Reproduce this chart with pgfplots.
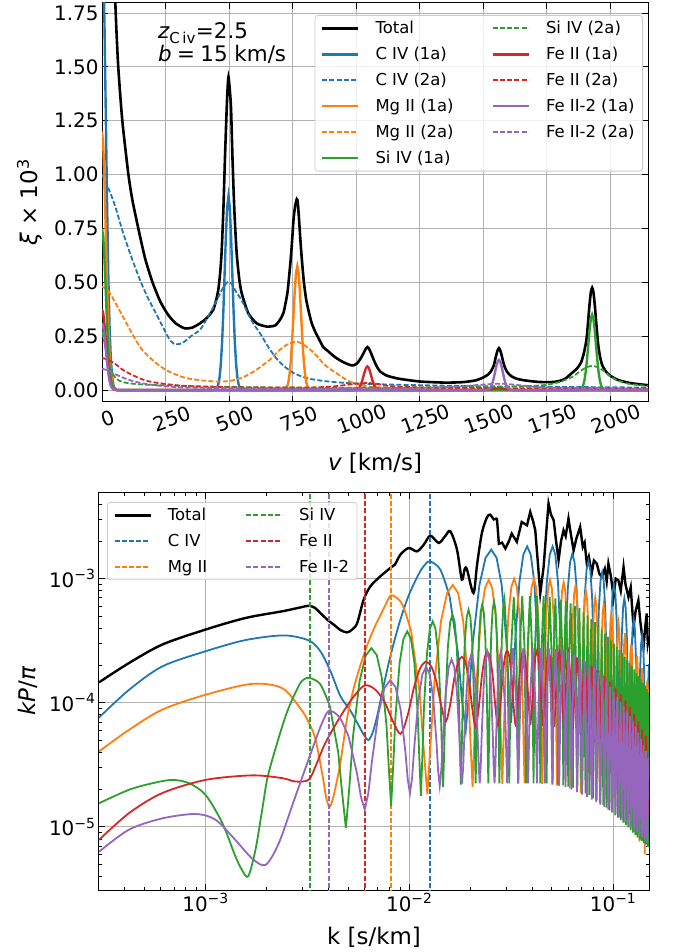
\documentclass[border=0pt]{standalone}
\usepackage{fontspec}
\setmainfont{DejaVu Sans}
\usepackage{pgfplots}
\pgfplotsset{compat=1.18}
\definecolor{cB}{HTML}{1F77B4}
\definecolor{cO}{HTML}{FF7F0E}
\definecolor{cG}{HTML}{2CA02C}
\definecolor{cR}{HTML}{D62728}
\definecolor{cP}{HTML}{9467BD}
\pgfplotsset{
  mpl/.style={
    scale only axis,
    tick align=inside,
    major tick length=6bp,
    minor tick length=3.5bp,
    every tick/.style={black, line width=0.8bp},
    axis line style={line width=1bp},
    grid=major,
    grid style={black!30, line width=0.8bp},
    tick label style={font=\fontsize{20}{24}\selectfont},
    legend cell align=left,
    legend columns=2,
    legend image code/.code={\draw[##1] (0bp,0bp) -- (36bp,0bp);},
    legend style={draw=black!20, line width=0.8bp, rounded corners=3bp, fill=white, fill opacity=0.8, text opacity=1, draw opacity=1, inner xsep=6bp, inner ysep=4bp, font=\fontsize{16.5}{19}\selectfont, row sep=8bp, /tikz/every odd column/.append style={column sep=14bp}, /tikz/every even column/.append style={column sep=36bp}},
  },
  dsh/.style={line width=1.8bp, dash pattern=on 5bp off 2.2bp},
  vdsh/.style={line width=2bp, dash pattern=on 5bp off 2.2bp},
  sld/.style={line width=2.4bp},
  osc/.style={line width=1.8bp},
}
\begin{document}
\begin{tikzpicture}
\path[use as bounding box] (0bp,0bp) rectangle (673bp,952bp);
\begin{axis}[mpl, at={(102bp,550bp)}, anchor=south west, width=546bp, height=399bp,
  xmin=0, xmax=2150, ymin=-0.055, ymax=1.796,
  xtick={0,250,500,750,1000,1250,1500,1750,2000},
  xticklabels={0,250,500,750,1000,1250,1500,1750,2000},
  ytick={0,0.25,0.5,0.75,1,1.25,1.5,1.75},
  yticklabels={0.00,0.25,0.50,0.75,1.00,1.25,1.50,1.75},
  xticklabel style={rotate=20, anchor=center, inner sep=0bp, yshift=-18bp},
  xlabel={{\itshape v} [km/s]}, ylabel={{\itshape ξ} × 10\textsuperscript{3}},
  every axis x label/.style={at={(axis description cs:0.5,-0.153)}, anchor=center, font=\fontsize{23}{27}\selectfont},
  every axis y label/.style={at={(axis description cs:-0.132,0.5)}, anchor=center, rotate=90, font=\fontsize{23}{27}\selectfont},
  legend style={at={(1,1)}, anchor=north east, xshift=-5bp, yshift=-12bp},
]
% Total
\addplot[black, line width=2.6bp, smooth, tension=0.4, forget plot] coordinates {(30,2.7) (45,2.05) (55,1.72) (64,1.5) (80,1.25) (104,1.0) (120,0.88) (143,0.75) (170,0.61) (199,0.5) (230,0.41) (260,0.35) (290,0.31) (325,0.287) (355,0.29) (386,0.31) (412,0.334) (438,0.373) (450,0.42) (458,0.466) (465,0.54) (471,0.64) (478,0.84) (484,1.07) (491,1.306) (495,1.41) (498,1.453) (502,1.41) (508,1.31) (514,1.07) (521,0.84) (530,0.64) (540,0.52) (550,0.45) (576,0.357) (609,0.31) (649,0.295) (682,0.30) (700,0.325) (715,0.36) (730,0.45) (737,0.53) (743,0.606) (749,0.7) (754,0.79) (760,0.85) (767,0.886) (771,0.87) (776,0.79) (781,0.7) (787,0.606) (795,0.5) (804,0.42) (815,0.36) (826,0.31) (840,0.27) (853,0.24) (871,0.2) (886,0.185) (905,0.165) (924,0.148) (950,0.13) (976,0.117) (990,0.115) (1005,0.125) (1020,0.15) (1030,0.172) (1038,0.19) (1045,0.2) (1050,0.195) (1060,0.17) (1070,0.14) (1082,0.11) (1095,0.087) (1120,0.068) (1150,0.058) (1174,0.052) (1252,0.04) (1350,0.035) (1420,0.037) (1470,0.045) (1500,0.058) (1520,0.072) (1533,0.09) (1543,0.115) (1548,0.14) (1553,0.165) (1558,0.185) (1563,0.195) (1568,0.185) (1573,0.165) (1578,0.14) (1585,0.11) (1595,0.085) (1610,0.066) (1630,0.054) (1660,0.046) (1720,0.038) (1780,0.038) (1820,0.05) (1848,0.077) (1870,0.1) (1885,0.125) (1895,0.16) (1905,0.215) (1910,0.26) (1915,0.33) (1920,0.4) (1925,0.455) (1930,0.475) (1935,0.455) (1940,0.4) (1945,0.33) (1950,0.26) (1955,0.2) (1962,0.15) (1970,0.115) (1985,0.085) (2000,0.068) (2030,0.048) (2070,0.035) (2110,0.028) (2150,0.023)};
% C IV 1a
\addplot[cB, sld, forget plot] coordinates {(0,2.1) (5,1.987) (10,1.682) (15,1.275) (20,0.863) (25,0.523) (30,0.284) (35,0.139) (40,0.061) (45,0.023) (50,0.008) (60,0.0006) (70,0) (430,0) (438,0.0006) (448,0.004) (453,0.01) (458,0.026) (463,0.059) (468,0.122) (473,0.224) (478,0.37) (483,0.546) (488,0.721) (493,0.851) (498,0.9) (503,0.851) (508,0.721) (513,0.546) (518,0.37) (523,0.224) (528,0.122) (533,0.059) (538,0.026) (543,0.01) (548,0.004) (558,0.0003) (566,0) (2150,0)};
% C IV 2a
\addplot[cB, dsh, smooth, tension=0.5, forget plot] coordinates {(0,1.0) (20,0.95) (50,0.86) (83,0.73) (115,0.62) (150,0.51) (180,0.43) (215,0.35) (250,0.27) (270,0.228) (290,0.212) (305,0.214) (325,0.225) (350,0.25) (386,0.28) (412,0.33) (445,0.40) (470,0.46) (485,0.49) (498,0.503) (512,0.49) (526,0.46) (543,0.43) (557,0.40) (590,0.32) (622,0.264) (655,0.2) (688,0.145) (720,0.108) (754,0.08) (790,0.062) (820,0.052) (892,0.04) (1000,0.031) (1200,0.024) (1500,0.018) (1800,0.015) (2150,0.012)};
% Mg II 1a
\addplot[cO, sld, forget plot] coordinates {(0,1.2) (5,1.135) (10,0.961) (15,0.728) (20,0.493) (25,0.299) (30,0.162) (35,0.079) (40,0.035) (45,0.013) (50,0.005) (60,0.0004) (70,0) (700,0) (709,0.0002) (719,0.002) (724,0.006) (729,0.017) (734,0.038) (739,0.078) (744,0.143) (749,0.236) (754,0.349) (759,0.461) (764,0.544) (769,0.575) (774,0.544) (779,0.461) (784,0.349) (789,0.236) (794,0.143) (799,0.078) (804,0.038) (809,0.017) (814,0.006) (819,0.002) (829,0.0002) (838,0) (2150,0)};
% Mg II 2a
\addplot[cO, dsh, smooth, tension=0.5, forget plot] coordinates {(0,0.48) (15,0.47) (31,0.45) (55,0.40) (83,0.34) (115,0.27) (150,0.20) (180,0.16) (215,0.124) (250,0.095) (281,0.077) (320,0.06) (360,0.05) (412,0.043) (460,0.04) (500,0.042) (530,0.05) (560,0.062) (600,0.088) (630,0.113) (660,0.14) (690,0.175) (713,0.20) (740,0.217) (767,0.225) (790,0.213) (818,0.19) (845,0.16) (871,0.124) (900,0.097) (924,0.078) (950,0.057) (976,0.04) (1000,0.03) (1029,0.02) (1108,0.012) (1300,0.008) (2150,0.005)};
% Si IV 1a
\addplot[cG, sld, forget plot] coordinates {(0,0.75) (5,0.71) (10,0.601) (15,0.455) (20,0.308) (25,0.187) (30,0.101) (35,0.05) (40,0.022) (45,0.008) (50,0.003) (60,0) (1870,0) (1880,0.0014) (1885,0.0039) (1890,0.0102) (1895,0.0231) (1900,0.0473) (1905,0.0872) (1910,0.1439) (1915,0.2125) (1920,0.2804) (1925,0.3311) (1930,0.35) (1935,0.3311) (1940,0.2804) (1945,0.2125) (1950,0.1439) (1955,0.0872) (1960,0.0473) (1965,0.0231) (1970,0.0102) (1975,0.0039) (1980,0.0014) (1990,0.0001) (2000,0) (2150,0)};
% Si IV 2a
\addplot[cG, dsh, smooth, tension=0.5, forget plot] coordinates {(0,0.27) (10,0.22) (20,0.16) (30,0.11) (45,0.07) (60,0.05) (80,0.038) (120,0.03) (200,0.024) (400,0.017) (700,0.012) (1000,0.011) (1300,0.013) (1500,0.015) (1600,0.016) (1700,0.02) (1752,0.025) (1800,0.037) (1830,0.05) (1857,0.065) (1885,0.09) (1910,0.107) (1930,0.112) (1950,0.107) (1975,0.09) (2000,0.065) (2025,0.048) (2060,0.033) (2100,0.025) (2150,0.02)};
% Fe II 1a
\addplot[cR, sld, forget plot] coordinates {(0,0.375) (5,0.355) (10,0.30) (15,0.228) (20,0.154) (25,0.093) (30,0.051) (35,0.025) (40,0.011) (45,0.004) (50,0.0015) (60,0) (990,0) (1000,0.0012) (1005,0.0032) (1010,0.0073) (1015,0.0149) (1020,0.0274) (1025,0.0452) (1030,0.0668) (1035,0.0881) (1040,0.104) (1045,0.11) (1050,0.104) (1055,0.0881) (1060,0.0668) (1065,0.0452) (1070,0.0274) (1075,0.0149) (1080,0.0073) (1085,0.0032) (1090,0.0012) (1100,0.0002) (1110,0) (1500,0) (1520,0.003) (1540,0.007) (1560,0.008) (1580,0.007) (1600,0.003) (1620,0) (2150,0)};
% Fe II 2a
\addplot[cR, dsh, smooth, tension=0.5, forget plot] coordinates {(0,0.15) (25,0.14) (50,0.124) (75,0.10) (100,0.082) (150,0.054) (200,0.037) (300,0.022) (400,0.016) (600,0.012) (800,0.012) (900,0.016) (960,0.024) (1003,0.03) (1045,0.033) (1080,0.03) (1120,0.021) (1174,0.016) (1300,0.011) (1600,0.008) (2150,0.005)};
% Fe II-2 1a
\addplot[cP, sld, forget plot] coordinates {(0,0.31) (5,0.293) (10,0.248) (15,0.188) (20,0.127) (25,0.077) (30,0.042) (35,0.02) (40,0.009) (45,0.0034) (50,0.0012) (60,0) (1510,0) (1518,0.0015) (1523,0.0041) (1528,0.0092) (1533,0.0189) (1538,0.0349) (1543,0.0575) (1548,0.085) (1553,0.1121) (1558,0.1324) (1563,0.14) (1568,0.1324) (1573,0.1121) (1578,0.085) (1583,0.0575) (1588,0.0349) (1593,0.0189) (1598,0.0092) (1603,0.0041) (1608,0.0015) (1618,0.0002) (1625,0) (2150,0)};
% Fe II-2 2a
\addplot[cP, dsh, smooth, tension=0.5, forget plot] coordinates {(0,0.10) (25,0.09) (50,0.075) (100,0.05) (150,0.034) (200,0.024) (300,0.014) (500,0.009) (900,0.008) (1200,0.01) (1350,0.014) (1420,0.018) (1480,0.024) (1530,0.028) (1563,0.03) (1600,0.028) (1650,0.022) (1700,0.016) (1750,0.012) (2150,0.007)};
\addlegendimage{black, line width=2.6bp}\addlegendentry{Total}
\addlegendimage{cG, dsh}\addlegendentry{Si IV (2a)}
\addlegendimage{cB, sld}\addlegendentry{C IV (1a)}
\addlegendimage{cR, sld}\addlegendentry{Fe II (1a)}
\addlegendimage{cB, dsh}\addlegendentry{C IV (2a)}
\addlegendimage{cR, dsh}\addlegendentry{Fe II (2a)}
\addlegendimage{cO, sld}\addlegendentry{Mg II (1a)}
\addlegendimage{cP, sld}\addlegendentry{Fe II-2 (1a)}
\addlegendimage{cO, dsh}\addlegendentry{Mg II (2a)}
\addlegendimage{cP, dsh}\addlegendentry{Fe II-2 (2a)}
\addlegendimage{cG, sld}\addlegendentry{Si IV (1a)}
\end{axis}
\node[anchor=base west, inner sep=0pt, font=\fontsize{21.5}{25}\selectfont] at (158bp,913bp) {{\itshape z}\textsubscript{C\,iv}=2.5};
\node[anchor=base west, inner sep=0pt, font=\fontsize{21.5}{25}\selectfont] at (158bp,890bp) {{\itshape b}\hspace{0.25em}=\hspace{0.25em}15 km/s};
\begin{axis}[mpl, at={(99bp,62bp)}, anchor=south west, width=550bp, height=397bp,
  xmode=log, ymode=log, xmin=3e-4, xmax=0.15, ymin=3.1e-6, ymax=4.9e-3,
  xtick={1e-3,1e-2,1e-1}, xticklabels={10\textsuperscript{−3},10\textsuperscript{−2},10\textsuperscript{−1}},
  ytick={1e-5,1e-4,1e-3}, yticklabels={10\textsuperscript{−5},10\textsuperscript{−4},10\textsuperscript{−3}},
  minor xtick={4e-4,5e-4,6e-4,7e-4,8e-4,9e-4,2e-3,3e-3,4e-3,5e-3,6e-3,7e-3,8e-3,9e-3,2e-2,3e-2,4e-2,5e-2,6e-2,7e-2,8e-2,9e-2},
  minor ytick={4e-6,5e-6,6e-6,7e-6,8e-6,9e-6,2e-5,3e-5,4e-5,5e-5,6e-5,7e-5,8e-5,9e-5,2e-4,3e-4,4e-4,5e-4,6e-4,7e-4,8e-4,9e-4,2e-3,3e-3,4e-3},
  xlabel={k [s/km]}, ylabel={{\itshape kP}/{\itshape π}},
  every axis x label/.style={at={(axis description cs:0.5,-0.118)}, anchor=center, font=\fontsize{23}{27}\selectfont},
  every axis y label/.style={at={(axis description cs:-0.129,0.5)}, anchor=center, rotate=90, font=\fontsize{23}{27}\selectfont},
  legend style={at={(0,1)}, anchor=north west, xshift=8bp, yshift=-9bp},
]
% Total
\addplot[black, line width=2.4bp, smooth, tension=0.5, forget plot] coordinates {(3.0e-4,1.46e-4) (4.21e-4,2.09e-4) (6.12e-4,2.94e-4) (1.0e-3,3.89e-4) (1.57e-3,4.82e-4) (2.38e-3,5.46e-4) (2.9e-3,5.85e-4) (3.21e-3,6.05e-4) (3.45e-3,5.8e-4) (3.66e-3,5.28e-4) (4.0e-3,4.6e-4) (4.26e-3,4.26e-4) (4.6e-3,3.85e-4) (4.95e-3,3.69e-4) (5.25e-3,3.9e-4) (5.55e-3,4.39e-4) (5.97e-3,6.78e-4) (6.44e-3,8.67e-4) (7.21e-3,1.045e-3) (8.07e-3,1.219e-3) (8.5e-3,1.3e-3) (9.04e-3,1.563e-3) (9.93e-3,1.766e-3) (1.09e-2,1.66e-3) (1.178e-2,1.88e-3) (1.268e-2,2.22e-3) (1.393e-2,1.94e-3) (1.5e-2,2.2e-3) (1.589e-2,2.41e-3) (1.714e-2,1.71e-3) (1.81e-2,9.82e-4) (1.87e-2,1.2e-3) (1.92e-2,1.18e-3) (2.065e-2,7.66e-4) (2.15e-2,1.3e-3) (2.27e-2,2.33e-3) (2.4e-2,3.1e-3) (2.49e-2,3.28e-3) (2.6e-2,3.0e-3) (2.69e-2,3.08e-3)};
\addplot[black, line width=2.4bp, forget plot] coordinates {(2.69e-2,3.08e-3) (2.75e-2,1.91e-3) (2.85e-2,1.95e-3) (2.96e-2,1.75e-3) (3.08e-2,2.0e-3) (3.18e-2,2.31e-3) (3.37e-2,1.98e-3) (3.56e-2,2.86e-3) (3.78e-2,2.69e-3) (3.92e-2,3.45e-3) (4.05e-2,2.9e-3) (4.15e-2,2.45e-3) (4.28e-2,1.3e-3) (4.39e-2,7.59e-4) (4.56e-2,1.245e-3) (4.7e-2,2.4e-3) (4.82e-2,4.03e-3) (4.95e-2,3.3e-3) (5.11e-2,2.95e-3) (5.25e-2,2.0e-3) (5.40e-2,1.41e-3) (5.55e-2,2.0e-3) (5.71e-2,2.45e-3) (5.85e-2,2.2e-3) (6.04e-2,3.05e-3) (6.2e-2,2.3e-3) (6.40e-2,1.69e-3) (6.6e-2,2.1e-3) (6.89e-2,2.61e-3) (7.1e-2,1.8e-3) (7.25e-2,1.95e-3) (7.43e-2,1.32e-3) (7.6e-2,1.5e-3) (7.85e-2,1.10e-3) (8.05e-2,1.4e-3) (8.32e-2,1.32e-3) (8.55e-2,1.1e-3) (8.79e-2,1.03e-3) (9.1e-2,1.2e-3) (9.3e-2,9.5e-4) (9.48e-2,1.32e-3) (9.75e-2,1.05e-3) (1.005e-1,7.11e-4) (1.03e-1,1.0e-3) (1.062e-1,9.68e-4) (1.09e-1,8.0e-4) (1.125e-1,1.24e-3) (1.15e-1,9.0e-4) (1.189e-1,7.11e-4) (1.22e-1,8.5e-4) (1.259e-1,4.07e-4) (1.29e-1,5.5e-4) (1.33e-1,6.68e-4) (1.36e-1,4.5e-4) (1.41e-1,2.82e-4) (1.44e-1,4.2e-4) (1.462e-1,5.25e-4) (1.48e-1,3.0e-4) (1.5e-1,3.4e-4)};
% C IV
\addplot[cB, osc, smooth, tension=0.5, forget plot] coordinates {(3.0e-4,7.6e-5) (4.21e-4,1.27e-4) (6.12e-4,1.96e-4) (1.0e-3,2.6e-4) (1.57e-3,3.2e-4) (2.42e-3,3.49e-4) (3.21e-3,3.18e-4) (3.66e-3,2.6e-4) (4.1e-3,1.8e-4) (4.59e-3,1.13e-4) (5.1e-3,8.8e-5) (5.55e-3,6.9e-5) (5.95e-3,5.6e-5) (6.3e-3,5.0e-5) (6.62e-3,5.8e-5) (6.95e-3,7.8e-5) (7.5e-3,1.4e-4) (8.07e-3,2.37e-4) (8.9e-3,4.3e-4) (9.75e-3,6.78e-4) (1.05e-2,9.0e-4) (1.132e-2,1.15e-3) (1.2e-2,1.31e-3) (0.01262,1.38e-3) (0.01419,1.185e-3) (0.01577,7.18e-4)};
\addplot[cB, osc, forget plot] coordinates {(0.01577,7.18e-4) (0.01735,2.48e-4) (0.01814,1.04e-4) (0.01892,6.0e-5) (0.01971,1.30e-4) (0.02050,3.09e-4) (0.02208,8.91e-4) (0.02366,1.472e-3)
(0.02523,1.714e-3) (0.02681,1.472e-3) (0.02839,8.91e-4) (0.02996,3.09e-4) (0.03075,1.30e-4) (0.03154,6.9e-5) (0.03233,1.38e-4) (0.03312,3.28e-4) (0.03470,9.46e-4) (0.03627,1.563e-3)
(0.03785,1.82e-3) (0.03943,1.563e-3) (0.04100,9.46e-4) (0.04258,3.28e-4) (0.04337,1.38e-4) (0.04416,7.1e-5) (0.04495,1.38e-4) (0.04573,3.28e-4) (0.04731,9.46e-4) (0.04889,1.563e-3)
(0.05046,1.82e-3) (0.05204,1.563e-3) (0.05362,9.46e-4) (0.05519,3.28e-4) (0.05598,1.38e-4) (0.05677,6.6e-5) (0.05756,1.20e-4) (0.05835,2.85e-4) (0.05992,8.24e-4) (0.06150,1.362e-3)
(0.06308,1.585e-3) (0.06466,1.362e-3) (0.06623,8.24e-4) (0.06781,2.85e-4) (0.06860,1.20e-4) (0.06939,5.8e-5) (0.07018,1.045e-4) (0.07096,2.48e-4) (0.07254,7.18e-4) (0.07412,1.185e-3)
(0.07570,1.38e-3) (0.07727,1.185e-3) (0.07885,7.18e-4) (0.08043,2.48e-4) (0.08122,1.045e-4) (0.08200,4.9e-5) (0.08279,8.5e-5) (0.08358,2.02e-4) (0.08516,5.83e-4) (0.08674,9.64e-4)
(0.08831,1.122e-3) (0.08989,9.64e-4) (0.09147,5.83e-4) (0.09304,2.02e-4) (0.09383,8.5e-5) (0.09462,3.9e-5) (0.09541,6.7e-5) (0.09620,1.60e-4) (0.09777,4.63e-4) (0.09935,7.65e-4)
(0.10093,8.91e-4) (0.10250,7.65e-4) (0.10408,4.63e-4) (0.10566,1.60e-4) (0.10645,6.7e-5) (0.10724,3.1e-5) (0.10802,5.2e-5) (0.10881,1.25e-4) (0.11039,3.60e-4) (0.11197,5.94e-4)
(0.11354,6.92e-4) (0.11512,5.94e-4) (0.11670,3.60e-4) (0.11827,1.25e-4) (0.11906,5.2e-5) (0.11985,2.3e-5) (0.12064,3.5e-5) (0.12143,8.4e-5) (0.12300,2.43e-4) (0.12458,4.02e-4)
(0.12616,4.68e-4) (0.12774,4.02e-4) (0.12931,2.43e-4) (0.13089,8.4e-5) (0.13168,3.5e-5) (0.13247,1.6e-5) (0.13326,2.6e-5) (0.13404,6.2e-5) (0.13562,1.80e-4) (0.13720,2.98e-4)
(0.13878,3.47e-4) (0.14035,2.98e-4) (0.14193,1.80e-4) (0.14351,6.2e-5) (0.14430,2.6e-5) (0.14508,1.2e-5) (0.14587,1.8e-5) (0.14666,4.3e-5) (0.14824,1.25e-4) (0.14981,2.06e-4)};
\addplot[cB, vdsh, forget plot] coordinates {(0.012616,1e-7) (0.012616,1)};
% Mg II
\addplot[cO, osc, smooth, tension=0.5, forget plot] coordinates {(3.0e-4,4.05e-5) (4.21e-4,6.05e-5) (6.12e-4,8.79e-5) (1.0e-3,1.16e-4) (1.69e-3,1.42e-4) (2.38e-3,1.31e-4) (2.95e-3,8.8e-5) (3.2e-3,7.0e-5) (3.46e-3,5.1e-5) (3.75e-3,2.6e-5) (3.9e-3,1.75e-5) (4.05e-3,1.45e-5) (4.2e-3,1.65e-5) (4.4e-3,2.3e-5) (4.59e-3,3.3e-5) (4.95e-3,7.5e-5) (5.33e-3,1.3e-4) (5.75e-3,2.0e-4) (6.21e-3,2.9e-4) (6.7e-3,3.95e-4) (7.21e-3,5.06e-4) (7.7e-3,6.3e-4) (0.00817,7.35e-4) (0.00919,6.30e-4) (0.01021,3.76e-4)};
\addplot[cO, osc, forget plot] coordinates {(0.01021,3.76e-4) (0.01123,1.22e-4) (0.01174,4.39e-5) (0.01226,1.83e-5) (0.01277,5.32e-5) (0.01328,1.48e-4) (0.01430,4.55e-4) (0.01532,7.64e-4)
(0.01634,8.91e-4) (0.01736,7.64e-4) (0.01838,4.55e-4) (0.01940,1.48e-4) (0.01991,5.32e-5) (0.02043,2.10e-5) (0.02094,5.83e-5) (0.02145,1.62e-4) (0.02247,4.99e-4) (0.02349,8.37e-4)
(0.02451,9.77e-4) (0.02553,8.37e-4) (0.02655,4.99e-4) (0.02757,1.62e-4) (0.02808,5.83e-5) (0.02860,2.22e-5) (0.02911,5.97e-5) (0.02962,1.66e-4) (0.03064,5.11e-4) (0.03166,8.57e-4)
(0.03268,1.0e-3) (0.03370,8.57e-4) (0.03472,5.11e-4) (0.03574,1.66e-4) (0.03625,5.97e-5) (0.03677,2.25e-5) (0.03728,5.97e-5) (0.03779,1.66e-4) (0.03881,5.11e-4) (0.03983,8.57e-4)
(0.04085,1.0e-3) (0.04187,8.57e-4) (0.04289,5.11e-4) (0.04391,1.66e-4) (0.04442,5.97e-5) (0.04494,2.22e-5) (0.04545,5.83e-5) (0.04596,1.62e-4) (0.04698,4.99e-4) (0.04800,8.37e-4)
(0.04902,9.77e-4) (0.05004,8.37e-4) (0.05106,4.99e-4) (0.05208,1.62e-4) (0.05259,5.83e-5) (0.05311,2.15e-5) (0.05362,5.57e-5) (0.05413,1.55e-4) (0.05515,4.77e-4) (0.05617,8.00e-4)
(0.05719,9.33e-4) (0.05821,8.00e-4) (0.05923,4.77e-4) (0.06025,1.55e-4) (0.06076,5.57e-5) (0.06128,2.03e-5) (0.06179,5.20e-5) (0.06230,1.45e-4) (0.06332,4.45e-4) (0.06434,7.46e-4)
(0.06536,8.71e-4) (0.06638,7.46e-4) (0.06740,4.45e-4) (0.06842,1.45e-4) (0.06893,5.20e-5) (0.06945,1.87e-5) (0.06996,4.74e-5) (0.07047,1.32e-4) (0.07149,4.06e-4) (0.07251,6.80e-4)
(0.07353,7.94e-4) (0.07455,6.80e-4) (0.07557,4.06e-4) (0.07659,1.32e-4) (0.07710,6.35e-5) (0.07762,2.63e-5) (0.07813,5.66e-5) (0.07864,1.18e-4) (0.07966,3.62e-4) (0.08068,6.07e-4)
(0.08170,7.08e-4) (0.08272,6.07e-4) (0.08374,3.62e-4) (0.08476,1.18e-4) (0.08527,5.66e-5) (0.08579,2.32e-5) (0.08630,4.94e-5) (0.08681,1.02e-4) (0.08783,3.15e-4) (0.08885,5.29e-4)
(0.08987,6.17e-4) (0.09089,5.29e-4) (0.09191,3.15e-4) (0.09293,1.02e-4) (0.09344,4.94e-5) (0.09396,2.0e-5) (0.09447,4.2e-5) (0.09498,8.72e-5) (0.09600,2.68e-4) (0.09702,4.50e-4)
(0.09804,5.25e-4) (0.09906,4.50e-4) (0.10008,2.68e-4) (0.10110,8.72e-5) (0.10161,4.2e-5) (0.10213,1.68e-5) (0.10264,3.5e-5) (0.10315,7.25e-5) (0.10417,2.23e-4) (0.10519,3.75e-4)
(0.10621,4.37e-4) (0.10723,3.75e-4) (0.10825,2.23e-4) (0.10927,7.25e-5) (0.10978,3.5e-5) (0.11030,1.4e-5) (0.11081,2.9e-5) (0.11132,6.03e-5) (0.11234,1.85e-4) (0.11336,3.11e-4)
(0.11438,3.63e-4) (0.11540,3.11e-4) (0.11642,1.85e-4) (0.11744,6.03e-5) (0.11795,2.9e-5) (0.11847,1.15e-5) (0.11898,2.36e-5) (0.11949,4.90e-5) (0.12051,1.51e-4) (0.12153,2.53e-4)
(0.12255,2.95e-4) (0.12357,2.53e-4) (0.12459,1.51e-4) (0.12561,4.90e-5) (0.12612,2.36e-5) (0.12664,9.4e-6) (0.12715,1.92e-5) (0.12766,3.98e-5) (0.12868,1.23e-4) (0.12970,2.06e-4)
(0.13072,2.40e-4) (0.13174,2.06e-4) (0.13276,1.23e-4) (0.13378,3.98e-5) (0.13429,1.92e-5) (0.13481,7.6e-6) (0.13532,1.53e-5) (0.13583,3.17e-5) (0.13685,9.76e-5) (0.13787,1.64e-4)
(0.13889,1.91e-4) (0.13991,1.64e-4) (0.14093,9.76e-5) (0.14195,3.17e-5) (0.14246,1.53e-5) (0.14298,6.0e-6) (0.14349,1.21e-5) (0.14400,2.51e-5) (0.14502,7.72e-5) (0.14604,1.29e-4)
(0.14706,1.51e-4) (0.14808,1.29e-4) (0.14910,7.72e-5) (0.15012,2.5e-5)};
\addplot[cO, vdsh, forget plot] coordinates {(0.00815,1e-7) (0.00815,1)};
% Si IV
\addplot[cG, osc, smooth, tension=0.5, forget plot] coordinates {(3.0e-4,1.55e-5) (4.21e-4,1.99e-5) (5.5e-4,2.25e-5) (6.85e-4,2.39e-5) (8.28e-4,2.25e-5) (1.0e-3,1.81e-5) (1.21e-3,1.07e-5) (1.40e-3,5.8e-6) (1.51e-3,4.5e-6) (1.62e-3,4.0e-6) (1.76e-3,6.6e-6) (1.9e-3,1.4e-5) (2.04e-3,2.72e-5) (2.47e-3,7.8e-5) (2.86e-3,1.36e-4) (3.05e-3,1.55e-4) (0.003255,1.585e-4) (0.003662,1.406e-4) (0.004069,9.46e-5)};
\addplot[cG, osc, forget plot] coordinates {(0.004069,9.46e-5) (0.004476,4.0e-5) (0.004679,1.89e-5) (0.004883,9.77e-6) (0.005086,2.16e-5) (0.005289,5.30e-5) (0.005696,1.486e-4) (0.006103,2.39e-4)
(0.006510,2.754e-4) (0.006917,2.427e-4) (0.007324,1.603e-4) (0.007731,6.50e-5) (0.007934,2.96e-5) (0.008138,1.479e-5) (0.008341,3.18e-5) (0.008544,7.60e-5) (0.008951,2.065e-4) (0.009358,3.27e-4)
(0.009765,3.758e-4) (0.010172,3.30e-4) (0.010579,2.138e-4) (0.010986,8.32e-5) (0.011189,3.66e-5) (0.011393,1.778e-5) (0.011596,3.83e-5) (0.011799,9.14e-5) (0.012206,2.489e-4) (0.012613,3.945e-4)
(0.013020,4.53e-4) (0.013427,3.97e-4) (0.013834,2.564e-4) (0.014241,9.91e-5) (0.014444,4.34e-5) (0.014648,2.089e-5) (0.014851,4.46e-5) (0.015054,1.054e-4) (0.015461,2.838e-4) (0.015868,4.467e-4)
(0.016275,5.13e-4) (0.016682,4.48e-4) (0.017089,2.864e-4) (0.017496,1.079e-4) (0.017699,4.62e-5) (0.017903,2.188e-5) (0.018106,4.72e-5) (0.018309,1.13e-4) (0.018716,3.083e-4) (0.019123,4.89e-4)
(0.019530,5.62e-4) (0.019937,4.90e-4) (0.020344,3.10e-4) (0.020751,1.143e-4) (0.020954,4.81e-5) (0.021158,2.239e-5) (0.021361,4.91e-5) (0.021564,1.199e-4) (0.021971,3.34e-4) (0.022378,5.35e-4)
(0.022785,6.17e-4) (0.023192,5.35e-4) (0.023599,3.34e-4) (0.024006,1.199e-4) (0.024209,4.91e-5) (0.024413,2.239e-5) (0.024616,4.98e-5) (0.024819,1.233e-4) (0.025226,3.50e-4) (0.025633,5.65e-4)
(0.026040,6.53e-4) (0.026447,5.65e-4) (0.026854,3.50e-4) (0.027261,1.233e-4) (0.027464,4.98e-5) (0.027668,2.239e-5) (0.027871,5.04e-5) (0.028074,1.262e-4) (0.028481,3.63e-4) (0.028888,5.90e-4)
(0.029295,6.84e-4) (0.030272,2.61e-4) (0.030923,2.239e-5) (0.031574,2.67e-4)
(0.03255,7.08e-4) (0.033527,2.67e-4) (0.034178,2.239e-5) (0.034829,2.72e-4)
(0.035805,7.24e-4) (0.036782,2.72e-4) (0.037433,2.239e-5) (0.038084,2.72e-4)
(0.03906,7.24e-4) (0.040037,2.72e-4) (0.040688,2.239e-5) (0.041339,2.72e-4)
(0.042315,7.24e-4) (0.043292,2.72e-4) (0.043943,2.239e-5) (0.044594,2.72e-4)
(0.04557,7.24e-4) (0.046547,2.72e-4) (0.047198,2.239e-5) (0.047849,2.67e-4)
(0.048825,7.08e-4) (0.049802,2.67e-4) (0.050453,2.239e-5) (0.051104,2.61e-4)
(0.05208,6.92e-4) (0.053057,2.61e-4) (0.053708,2.19e-5) (0.054359,2.55e-4)
(0.055335,6.76e-4) (0.056312,2.55e-4) (0.056963,2.16e-5) (0.057614,2.49e-4)
(0.05859,6.61e-4) (0.059567,2.49e-4) (0.060218,2.11e-5) (0.060869,2.4e-4)
(0.061845,6.31e-4) (0.062822,2.4e-4) (0.063473,2.07e-5) (0.064124,2.29e-4)
(0.0651,6.03e-4) (0.066728,2.0e-5) (0.068355,5.82e-4) (0.069983,1.95e-5) (0.07161,5.37e-4) (0.073238,1.86e-5) (0.074865,5.07e-4) (0.076493,1.80e-5) (0.07812,4.73e-4) (0.079748,1.70e-5) (0.081375,4.47e-4) (0.083003,1.64e-5) (0.08463,4.17e-4) (0.086258,1.57e-5) (0.087885,3.89e-4) (0.089513,1.50e-5) (0.09114,3.63e-4) (0.092768,1.43e-5) (0.094395,3.39e-4) (0.096023,1.36e-5) (0.09765,3.16e-4) (0.099278,1.30e-5) (0.100905,2.99e-4) (0.102533,1.24e-5) (0.10416,2.82e-4) (0.105788,1.19e-5) (0.107415,2.66e-4) (0.109043,1.14e-5) (0.11067,2.51e-4) (0.112298,1.08e-5) (0.113925,2.34e-4) (0.115553,1.04e-5) (0.11718,2.21e-4) (0.118808,9.9e-6) (0.120435,2.09e-4) (0.122063,9.4e-6) (0.12369,1.97e-4) (0.125318,9.0e-6) (0.126945,1.86e-4) (0.128573,8.6e-6) (0.1302,1.74e-4) (0.131828,8.2e-6) (0.133455,1.64e-4) (0.135083,7.9e-6) (0.13671,1.55e-4) (0.138338,7.7e-6) (0.139965,1.45e-4) (0.141593,7.4e-6) (0.14322,1.36e-4) (0.144848,7.2e-6) (0.146475,1.29e-4) (0.148103,6.9e-6) (0.14973,1.20e-4)};
\addplot[cG, vdsh, forget plot] coordinates {(0.003255,1e-7) (0.003255,1)};
% Fe II
\addplot[cR, osc, smooth, tension=0.5, forget plot] coordinates {(3.0e-4,7.85e-6) (4.21e-4,1.29e-5) (6.12e-4,1.87e-5) (1.0e-3,2.39e-5) (1.69e-3,2.6e-5) (2.38e-3,2.47e-5) (2.76e-3,2.32e-5) (3.21e-3,2.4e-5) (3.5e-3,3.2e-5) (3.87e-3,4.73e-5) (4.59e-3,7.76e-5) (5.33e-3,1.12e-4)
(0.006042,1.38e-4) (0.006797,1.279e-4) (0.0075525,1.016e-4) (0.0083078,7.10e-5) (0.009063,5.62e-5) (0.0098183,7.96e-5) (0.0105735,1.355e-4) (0.0113288,1.91e-4)
(0.012084,2.138e-4) (0.0128395,1.95e-4) (0.0135945,1.466e-4) (0.0143498,9.44e-5) (0.015105,7.08e-5) (0.0158603,9.66e-5) (0.0166155,1.56e-4) (0.0173708,2.12e-4)
(0.018126,2.344e-4) (0.0188815,2.10e-4) (0.0196365,1.50e-4) (0.0203918,8.87e-5) (0.021147,6.31e-5) (0.0219023,9.10e-5) (0.0226575,1.592e-4) (0.0234128,2.29e-4)
(0.024168,2.57e-4) (0.0249235,2.29e-4) (0.0256785,1.61e-4) (0.0264338,9.33e-5) (0.027189,6.53e-5) (0.0279443,9.38e-5) (0.0286995,1.637e-4) (0.0294548,2.34e-4)
(0.03021,2.63e-4) (0.0309655,2.34e-4) (0.0317205,1.637e-4) (0.0324758,9.46e-5) (0.033231,6.61e-5) (0.0339863,9.46e-5) (0.0347415,1.637e-4) (0.0354968,2.34e-4)
(0.036252,2.63e-4)};
\addplot[cR, osc, forget plot] coordinates {(0.036252,2.63e-4) (0.0370075,2.34e-4) (0.0377625,1.637e-4) (0.0385178,9.46e-5) (0.039273,6.61e-5) (0.0400283,9.46e-5) (0.0407835,1.637e-4) (0.0415388,2.34e-4)
(0.042294,2.63e-4) (0.0430495,2.34e-4) (0.0438045,1.637e-4) (0.0445598,9.46e-5) (0.045315,6.5e-5) (0.0460703,9.3e-5) (0.0468255,1.62e-4) (0.0475808,2.31e-4)
(0.048336,2.60e-4) (0.0490915,2.31e-4) (0.0498465,1.62e-4) (0.0506018,9.3e-5) (0.051357,6.4e-5) (0.0521123,9.1e-5) (0.0528675,1.58e-4) (0.0536228,2.26e-4)
(0.054378,2.54e-4) (0.0551335,2.26e-4) (0.0558885,1.58e-4) (0.0566438,9.1e-5) (0.057399,6.2e-5) (0.0581543,8.8e-5) (0.0589095,1.53e-4) (0.0596648,2.19e-4)
(0.06042,2.455e-4) (0.0619305,1.53e-4) (0.063441,6.0e-5) (0.0649515,1.445e-4)
(0.066462,2.32e-4) (0.0679725,1.445e-4) (0.069483,5.62e-5) (0.0709935,1.35e-4)
(0.072504,2.163e-4) (0.0740145,1.35e-4) (0.075525,5.25e-5) (0.0770355,1.245e-4)
(0.078546,1.995e-4) (0.0800565,1.245e-4) (0.081567,4.79e-5) (0.0830775,1.135e-4)
(0.084588,1.82e-4) (0.0860985,1.135e-4) (0.087609,4.37e-5) (0.0891195,1.023e-4)
(0.09063,1.64e-4) (0.0921405,1.023e-4) (0.093651,3.89e-5) (0.0951615,9.23e-5)
(0.096672,1.48e-4) (0.0981825,9.23e-5) (0.099693,3.51e-5) (0.1012035,8.22e-5)
(0.102714,1.318e-4) (0.1042245,8.22e-5) (0.105735,3.13e-5) (0.1072455,7.33e-5)
(0.108756,1.175e-4) (0.1102665,7.33e-5) (0.111777,2.79e-5) (0.1132875,6.53e-5)
(0.114798,1.047e-4) (0.1163085,6.53e-5) (0.117819,2.48e-5) (0.1193295,5.82e-5)
(0.12084,9.33e-5) (0.1223505,5.82e-5) (0.123861,2.19e-5) (0.1253715,5.07e-5)
(0.126882,8.13e-5) (0.1283925,5.07e-5) (0.129903,1.905e-5) (0.1314135,4.42e-5)
(0.132924,7.08e-5) (0.1344345,4.42e-5) (0.135945,1.66e-5) (0.1374555,3.85e-5)
(0.138966,6.17e-5) (0.1404765,3.85e-5) (0.141987,1.445e-5) (0.1434975,3.35e-5)
(0.145008,5.37e-5) (0.1465185,3.35e-5) (0.148029,1.26e-5) (0.1495395,2.92e-5)};
\addplot[cR, vdsh, forget plot] coordinates {(0.006042,1e-7) (0.006042,1)};
% Fe II-2
\addplot[cP, osc, smooth, tension=0.5, forget plot] coordinates {(3.0e-4,6.3e-6) (4.21e-4,9.5e-6) (6.12e-4,1.17e-5) (8.93e-4,1.27e-5) (1.12e-3,1.14e-5) (1.40e-3,7.85e-6) (1.69e-3,5.58e-6) (1.97e-3,4.94e-6) (2.29e-3,7.41e-6) (2.76e-3,1.76e-5) (3.33e-3,4.17e-5) (3.72e-3,6.8e-5) (0.004028,8.59e-5) (0.0045315,7.69e-5) (0.005035,5.35e-5)};
\addplot[cP, osc, forget plot] coordinates {(0.005035,5.35e-5) (0.0055385,2.69e-5) (0.0057903,1.74e-5) (0.006042,1.38e-5) (0.0062938,1.87e-5) (0.0065455,3.31e-5) (0.007049,8.15e-5) (0.0075525,1.312e-4)
(0.008056,1.52e-4) (0.0085595,1.337e-4) (0.009063,8.81e-5) (0.0095665,4.01e-5) (0.0098183,2.43e-5) (0.01007,1.862e-5) (0.0103218,2.51e-5) (0.0105735,4.39e-5) (0.011077,1.059e-4) (0.0115805,1.69e-4)
(0.012084,1.95e-4) (0.0125875,1.70e-4) (0.013091,1.096e-4) (0.0135945,4.79e-5) (0.0138463,2.82e-5) (0.014098,2.14e-5) (0.0143498,2.88e-5) (0.0146015,5.04e-5) (0.015105,1.216e-4) (0.0156085,1.94e-4)
(0.016112,2.24e-4) (0.0166155,1.945e-4) (0.017119,1.23e-4) (0.0176225,5.19e-5) (0.0178743,2.99e-5) (0.018126,2.239e-5) (0.0183778,3.03e-5) (0.0186295,5.37e-5) (0.019133,1.318e-4) (0.0196365,2.12e-4)
(0.02014,2.455e-4) (0.0206435,2.12e-4) (0.021147,1.318e-4) (0.0216505,5.37e-5) (0.0219023,3.03e-5) (0.022154,2.239e-5) (0.0224058,3.05e-5) (0.0226575,5.46e-5) (0.023161,1.36e-4) (0.0236645,2.21e-4)
(0.024168,2.57e-4) (0.0246715,2.21e-4) (0.025175,1.36e-4) (0.0256785,5.46e-5) (0.0259303,3.05e-5) (0.026182,2.239e-5) (0.0264338,3.05e-5) (0.0266855,5.52e-5) (0.027189,1.40e-4) (0.0276925,2.29e-4)
(0.028196,2.66e-4) (0.0294044,1.023e-4) (0.03021,2.239e-5) (0.0310156,1.045e-4)
(0.032224,2.754e-4) (0.0334324,1.045e-4) (0.034238,2.239e-5) (0.0350436,1.045e-4)
(0.036252,2.754e-4) (0.0374604,1.045e-4) (0.038266,2.239e-5) (0.0390716,1.045e-4)
(0.04028,2.754e-4) (0.0414884,1.045e-4) (0.042294,2.239e-5) (0.0430996,1.045e-4)
(0.044308,2.754e-4) (0.0455164,1.045e-4) (0.046322,2.239e-5) (0.0471276,1.045e-4)
(0.048336,2.754e-4) (0.0495444,1.045e-4) (0.05035,2.19e-5) (0.0511556,1.028e-4)
(0.052364,2.72e-4) (0.0535724,1.028e-4) (0.054378,2.14e-5) (0.0551836,1.005e-4)
(0.056392,2.66e-4) (0.0576004,1.005e-4) (0.058406,2.09e-5) (0.0592116,9.75e-5)
(0.06042,2.57e-4) (0.0616284,9.75e-5) (0.062434,2.0e-5) (0.0632396,9.31e-5)
(0.064448,2.455e-4) (0.0656564,9.31e-5) (0.066462,1.905e-5)
(0.068476,2.32e-4) (0.07049,1.82e-5) (0.072504,2.19e-4) (0.074518,1.74e-5) (0.076532,2.04e-4) (0.078546,1.66e-5) (0.08056,1.905e-4) (0.082574,1.585e-5) (0.084588,1.76e-4) (0.086602,1.51e-5) (0.088616,1.62e-4) (0.09063,1.445e-5) (0.092644,1.48e-4) (0.094658,1.38e-5) (0.096672,1.35e-4) (0.098686,1.32e-5) (0.1007,1.23e-4) (0.102714,1.26e-5) (0.104728,1.12e-4) (0.106742,1.20e-5) (0.108756,1.02e-4) (0.11077,1.15e-5) (0.112784,9.33e-5) (0.114798,1.10e-5) (0.116812,8.51e-5) (0.118826,1.05e-5) (0.12084,7.76e-5) (0.122854,1.0e-5) (0.124868,7.08e-5) (0.126882,9.5e-6) (0.128896,6.46e-5) (0.13091,9.1e-6) (0.132924,5.75e-5) (0.134938,8.7e-6) (0.136952,5.13e-5) (0.138966,8.3e-6) (0.14098,4.57e-5) (0.142994,7.9e-6) (0.145008,4.07e-5) (0.147022,7.4e-6) (0.149036,3.63e-5)};
\addplot[cP, vdsh, forget plot] coordinates {(0.004028,1e-7) (0.004028,1)};
\addlegendimage{black, line width=2.4bp}\addlegendentry{Total}
\addlegendimage{cG, dsh}\addlegendentry{Si IV}
\addlegendimage{cB, dsh}\addlegendentry{C IV}
\addlegendimage{cR, dsh}\addlegendentry{Fe II}
\addlegendimage{cO, dsh}\addlegendentry{Mg II}
\addlegendimage{cP, dsh}\addlegendentry{Fe II-2}
\end{axis}
\end{tikzpicture}
\end{document}
